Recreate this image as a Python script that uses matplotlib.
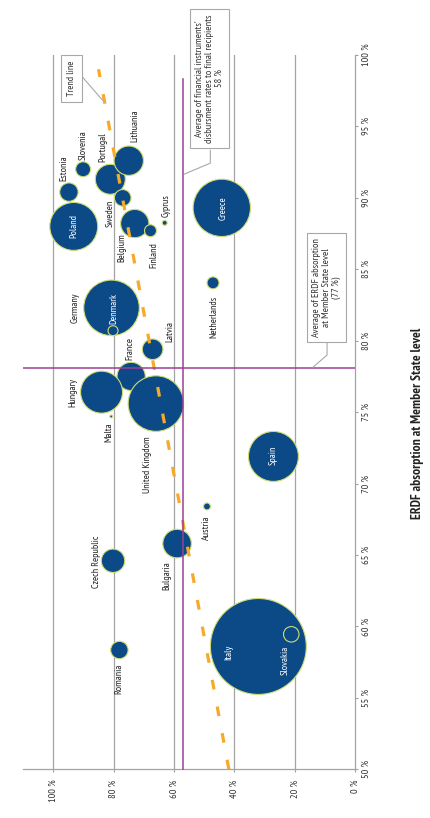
import matplotlib
matplotlib.use("Agg")
import matplotlib.pyplot as plt

# =========================
# DATA
# =========================
countries = ["Poland", "Estonia", "Slovenia", "Portugal", "Lithuania", "Sweden",
             "Belgium", "Finland", "Cyprus", "Germany", "Latvia", "France",
             "Hungary", "United Kingdom", "Malta", "Austria", "Bulgaria",
             "Czech Republic", "Greece", "Netherlands", "Spain", "Italy", "Romania"]
absorption = [88.0, 90.4, 92.0, 91.3, 92.6, 90.0, 88.2, 87.7, 88.25, 82.3, 79.4, 77.5,
              76.4, 75.6, 74.7, 68.4, 65.8, 64.6, 89.3, 84.05, 71.9, 58.6, 58.35]
disbursement = [93.2, 94.8, 90.1, 81.1, 75.0, 77.0, 73.0, 67.8, 63.1, 80.7, 67.1, 74.2,
                84.0, 66.0, 80.8, 49.1, 59.0, 80.2, 44.2, 47.1, 27.1, 32.1, 78.1]
bubble_size = [576, 85, 56, 225, 216, 69, 200, 36, 6, 773, 106, 200,
               441, 773, 2, 12, 204, 137, 824, 36, 625, 2304, 76]

# small bubbles drawn as rings on top of the big ones
ring_countries = ["Denmark", "Slovakia"]
ring_absorption = [80.7, 59.45]
ring_disbursement = [80.2, 21.2]
ring_size = [25, 60]

trend_abs = [50.0, 99.0]
trend_rate = [41.85, 85.0]

avg_rate_line = 57.0
avg_abs_line = 78.1

x_ticks = [100, 80, 60, 40, 20, 0]
y_ticks = [50, 55, 60, 65, 70, 75, 80, 85, 90, 95, 100]

# =========================
# STYLE / LAYOUT
# =========================
FONT = ["PT Sans Narrow", "DejaVu Sans"]
plt.rcParams["font.family"] = FONT
plt.rcParams["lines.scale_dashes"] = False

BLUE = "#0b4a87"
EDGE = "#cfdc74"
GRID = "#a3a3a3"
PURPLE = "#9c3d97"
ORANGE = "#f7a928"
TXT = "#333333"

white_labels = {"Poland", "Greece", "Spain", "Italy", "Denmark", "Slovakia"}
# label offsets in pixels (dx right, dy down)
label_off = {
    "Estonia": (-5, -24), "Slovenia": (0, -24), "Portugal": (-7, -32),
    "Lithuania": (6, -35), "Sweden": (-13, 16), "Belgium": (-13, 24),
    "Finland": (3, 24), "Cyprus": (1, -17), "Poland": (0, 0),
    "Germany": (-36, 0), "Denmark": (1, -22), "Latvia": (17, -18),
    "France": (-1, -28), "Hungary": (-29, 0), "Malta": (-2, 16),
    "United Kingdom": (-8, 61), "Austria": (-1, 21), "Bulgaria": (-10, 32),
    "Czech Republic": (-17, 1), "Greece": (1, 0), "Netherlands": (1, 34),
    "Spain": (0, -1), "Italy": (-30, 6), "Slovakia": (-6, 26), "Romania": (0, 29),
}

fig = plt.figure(figsize=(4.30, 8.18), dpi=100)
ax = fig.add_axes([0.0535, 0.0595, 0.7728, 0.8733])
ax.set_xlim(110, 0)
ax.set_ylim(50, 100)

for t in [100, 80, 60, 40, 20]:
    ax.axvline(t, color=GRID, lw=0.9, zorder=1)

for s in ["left", "top"]:
    ax.spines[s].set_visible(False)
for s in ["right", "bottom"]:
    ax.spines[s].set_color(GRID)
    ax.spines[s].set_linewidth(0.9)

ax.yaxis.tick_right()
ax.set_xticks(x_ticks)
ax.set_xticklabels([f"{t} %" for t in x_ticks], rotation=90, fontsize=7.5, color=TXT)
ax.set_yticks(y_ticks)
ax.set_yticklabels([f"{t} %" for t in y_ticks], rotation=90, va="center", fontsize=7.5,
                   color=TXT)
ax.tick_params(axis="both", length=2.5, width=0.8, color=GRID)
ax.tick_params(axis="x", pad=5)
ax.tick_params(axis="y", pad=2)

# bubbles
ax.scatter(disbursement, absorption, s=[a * 2.07 for a in bubble_size], color=BLUE,
           edgecolors=EDGE, linewidths=0.8, zorder=3)
ax.scatter(ring_disbursement, ring_absorption, s=[a * 2.07 for a in ring_size],
           facecolors="none", edgecolors=EDGE, linewidths=0.8, zorder=4)

# trend + averages
ax.plot(trend_rate, trend_abs, color=ORANGE, lw=2.3, dashes=(7, 12.5), zorder=5)
ax.plot([avg_rate_line, avg_rate_line], [50, 98.3], color=PURPLE, lw=1.1, zorder=5,
        clip_on=False)
ax.axhline(avg_abs_line, color=PURPLE, lw=1.1, zorder=5)

# labels
for names, xs, ys in [(countries, disbursement, absorption),
                      (ring_countries, ring_disbursement, ring_absorption)]:
    for n, xv, yv in zip(names, xs, ys):
        dx, dy = label_off[n]
        ax.annotate(n, (xv, yv), xytext=(dx, -dy), textcoords="offset pixels",
                    rotation=90, ha="center", va="center", fontsize=7.2,
                    color="white" if n in white_labels else "#222222", zorder=6)

# annotation boxes
box = dict(boxstyle="square,pad=0.5", fc="white", ec="#a8a8a8", lw=0.8)
ax.text(48.35, 98.37, "Average of financial instruments’\ndisbursment rates to final recipients\n58 %",
        rotation=90, ha="center", va="center", fontsize=7.4, linespacing=1.1,
        color=TXT, bbox=box, zorder=7, clip_on=False)
ax.plot([47.99, 47.99, 56.6], [93.33, 92.43, 91.66], color="#a8a8a8", lw=0.8, zorder=6)

ax.text(9.45, 83.73, "Average of ERDF absorption\nat Member State level\n(77 %)",
        rotation=90, ha="center", va="center", fontsize=7.4, linespacing=1.1,
        color=TXT, bbox=box, zorder=7)
ax.plot([9.35, 9.35, 13.98], [79.91, 79.0, 78.15], color="#a8a8a8", lw=0.8, zorder=6)

ax.text(93.95, 98.34, "Trend line", rotation=90, ha="center", va="center", fontsize=7.2,
        color=TXT, bbox=dict(boxstyle="square,pad=0.6", fc="white", ec="#a8a8a8", lw=0.8),
        zorder=7, clip_on=False)
ax.plot([90.3, 83.7], [98.45, 96.84], color="#a8a8a8", lw=0.8, zorder=6)

fig.text(418 / 430, 1 - 423 / 818, "ERDF absorption at Member State level", rotation=90,
         ha="center", va="center", fontsize=9.8, fontweight="bold", color="#222222")

fig.savefig("out.png", dpi=100)
